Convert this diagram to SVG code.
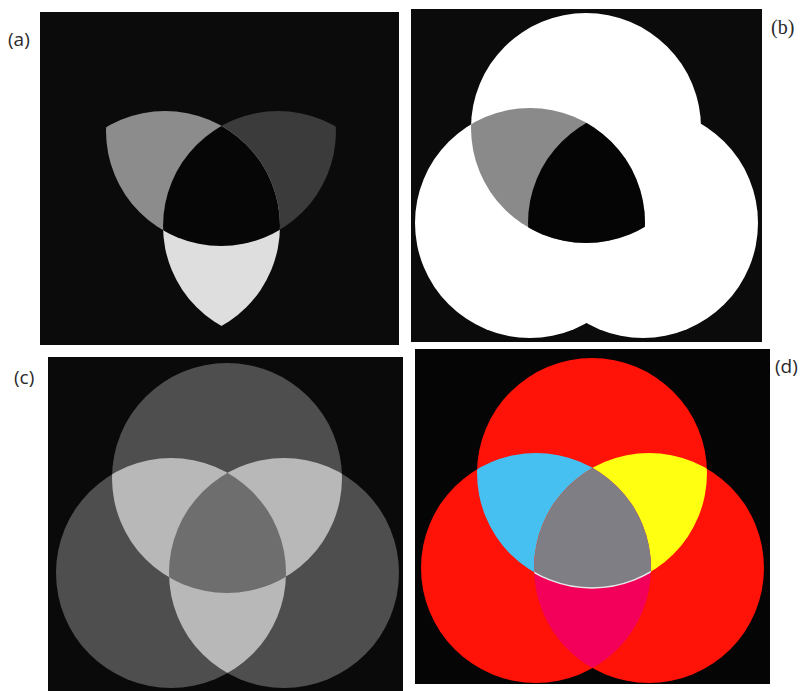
<svg xmlns="http://www.w3.org/2000/svg" width="801" height="691" viewBox="0 0 801 691">
<style>
.lbl{font-family:"Open Sans","DejaVu Sans",sans-serif;font-size:19px;fill:#2a2a2a}
.lbls{font-family:"Liberation Serif","DejaVu Serif",serif;font-size:20px;fill:#2a2a2a}
</style>
<defs>
<circle id="cT" cx="0" cy="0" r="115"/>
<circle id="cL" cx="-56" cy="95" r="115"/>
<circle id="cR" cx="57" cy="95" r="115"/>
<clipPath id="clipL"><use href="#cL"/></clipPath>
<clipPath id="clipR"><use href="#cR"/></clipPath>
</defs>
<rect x="0" y="0" width="801" height="691" fill="#ffffff"/>

<g id="panel-a">
<rect x="40" y="12" width="359" height="333" fill="#0b0b0b"/>
<g transform="translate(221,131)">
<use href="#cT" fill="#8c8c8c" clip-path="url(#clipL)"/>
<use href="#cT" fill="#3b3b3b" clip-path="url(#clipR)"/>
<use href="#cL" fill="#dedede" clip-path="url(#clipR)"/>
<g clip-path="url(#clipR)"><use href="#cT" fill="#060606" clip-path="url(#clipL)"/></g>
</g>
<text class="lbl" x="8" y="46">(a)</text>
</g>

<g id="panel-b">
<rect x="411" y="9" width="351" height="333" fill="#0b0b0b"/>
<g transform="translate(586,128)">
<use href="#cT" fill="#ffffff"/>
<use href="#cL" fill="#ffffff"/>
<use href="#cR" fill="#ffffff"/>
<use href="#cT" fill="#8a8a8a" clip-path="url(#clipL)"/>
<g clip-path="url(#clipR)"><use href="#cT" fill="#050505" clip-path="url(#clipL)"/></g>
</g>
<text class="lbls" x="771" y="34">(b)</text>
</g>

<g id="panel-c">
<rect x="48" y="357" width="355" height="334" fill="#0a0a0a"/>
<g transform="translate(227,478)">
<use href="#cT" fill="#4e4e4e"/>
<use href="#cL" fill="#4e4e4e"/>
<use href="#cR" fill="#4e4e4e"/>
<use href="#cT" fill="#b8b8b8" clip-path="url(#clipL)"/>
<use href="#cT" fill="#b8b8b8" clip-path="url(#clipR)"/>
<use href="#cL" fill="#b8b8b8" clip-path="url(#clipR)"/>
<g clip-path="url(#clipR)"><use href="#cT" fill="#6e6e6e" clip-path="url(#clipL)"/></g>
</g>
<text class="lbl" x="14" y="384">(c)</text>
</g>

<g id="panel-d">
<rect x="415" y="349" width="355" height="335" fill="#050505"/>
<g transform="translate(592,473)">
<use href="#cT" fill="#ff1208"/>
<use href="#cL" fill="#ff1208"/>
<use href="#cR" fill="#ff1208"/>
<use href="#cT" fill="#45c0f0" clip-path="url(#clipL)"/>
<use href="#cT" fill="#ffff12" clip-path="url(#clipR)"/>
<use href="#cL" fill="#f2005a" clip-path="url(#clipR)"/>
<g clip-path="url(#clipR)"><use href="#cT" fill="#7e7e84" stroke="#e8e8e8" stroke-width="1.5" clip-path="url(#clipL)"/></g>
</g>
<text class="lbl" x="775" y="373">(d)</text>
</g>
</svg>
